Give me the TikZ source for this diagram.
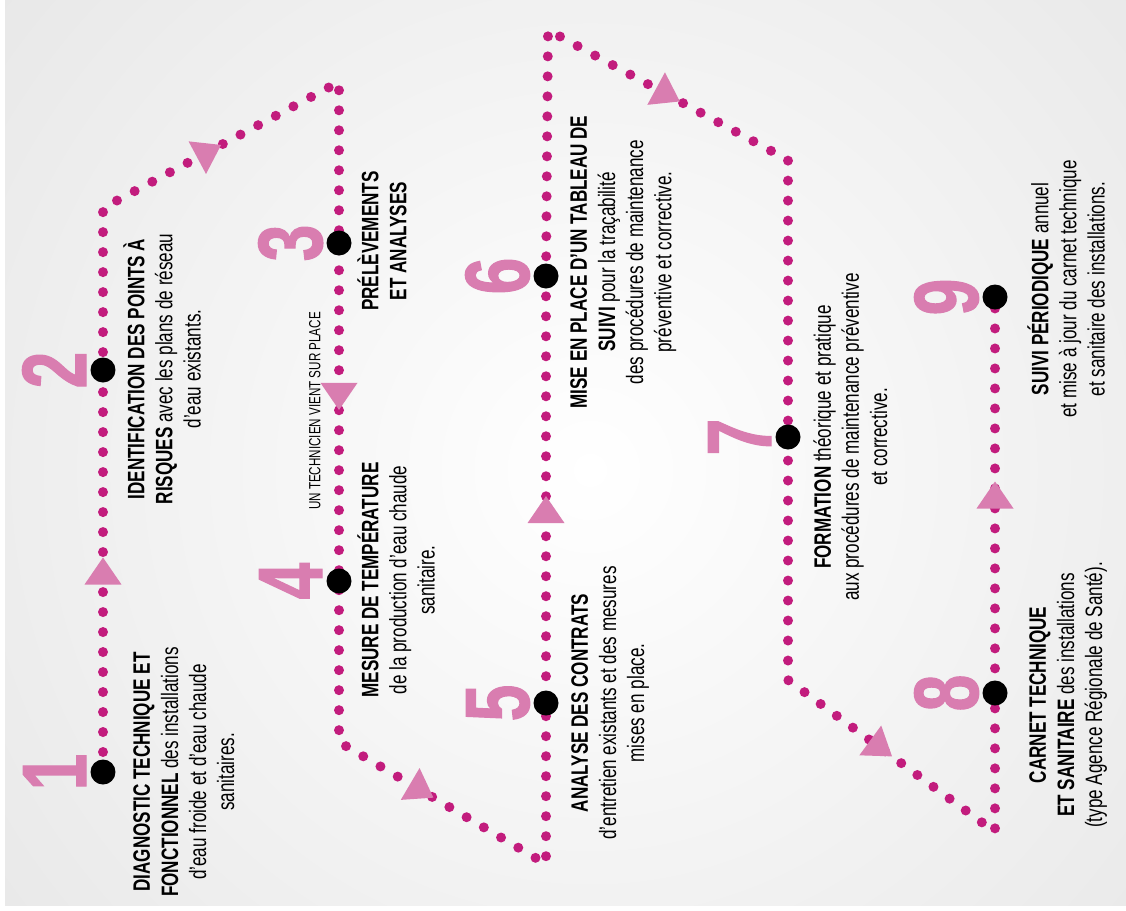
\documentclass[tikz,border=0pt]{standalone}
\usepackage{fontspec}
\setmainfont[FakeStretch=0.72]{Liberation Sans}
\newfontfamily\numfont[FakeStretch=0.72,FakeBold=1.2]{Liberation Sans}
\usetikzlibrary{decorations.markings,backgrounds}

\definecolor{dotmag}{RGB}{194,28,125}
\definecolor{numpink}{RGB}{217,125,176}

\tikzset{
    station/.style={circle,fill=black,minimum size=0.5cm,inner sep=0pt},
    stepnum/.style={rotate=90,anchor=base,text=numpink,inner sep=0pt,font=\numfont\fontsize{52}{52}\selectfont\bfseries},
    blurb/.style={rotate=90,anchor=north,align=center,inner sep=0pt,font=\fontsize{13.5}{16}\selectfont},
    trail/.style={draw=dotmag,line width=0.2cm,line cap=round,dash pattern=on 0pt off 0.4cm},
    tri/.style={postaction={decorate,decoration={markings,mark=at position #1 with {\fill[numpink] (0.27cm,0) -- (-0.27cm,0.37cm) -- (-0.27cm,-0.37cm) -- cycle;}}}},
    tri/.default=0.5
}

\begin{document}
\begin{tikzpicture}[x=0.02cm,y=-0.02cm]
        \useasboundingbox (0,0) rectangle (1126,910);

        % stations along the trail
        \foreach \i/\x/\y in {1/103/772, 2/103/370, 3/339/243, 4/339/581, 5/546/703, 6/546/276, 7/788/437, 8/995/693, 9/995/297} {
            \node[station] (n\i) at (\x,\y) {};
            \node[stepnum] (num\i) at (\x-17,\y) {\i};
        }

        \coordinate (c1) at (103,208);
        \coordinate (c2) at (339,82);
        \coordinate (c3) at (339,742);
        \coordinate (c4) at (546,864);
        \coordinate (c5) at (548,30);
        \coordinate (c6) at (788,160);
        \coordinate (c7) at (788,680);
        \coordinate (c8) at (995,832);

        \node[blurb] (t1) at (133,772) {\textbf{DIAGNOSTIC TECHNIQUE ET}\\\textbf{FONCTIONNEL} des installations\\d'eau froide et d'eau chaude\\sanitaires.};
        \node[blurb] (t2) at (123,369) {\textbf{IDENTIFICATION DES POINTS À}\\\textbf{RISQUES} avec les plans de réseau\\d'eau existants.};
        \node[blurb] (t3) at (357,241) {\textbf{PRÉLÈVEMENTS}\\\textbf{ET ANALYSES}};
        \node[blurb] (t4) at (357,580) {\textbf{MESURE DE TEMPÉRATURE}\\de la production d'eau chaude\\sanitaire.};
        \node[blurb] (t5) at (571,703) {\textbf{ANALYSE DES CONTRATS}\\d'entretien existants et des mesures\\mises en place.};
        \node[blurb] (t6) at (570,262) {\textbf{MISE EN PLACE D'UN TABLEAU DE}\\\textbf{SUIVI} pour la traçabilité\\des procédures de maintenance\\préventive et corrective.};
        \node[blurb] (t7) at (813,437) {\textbf{FORMATION} théorique et pratique\\aux procédures de maintenance préventive\\et corrective.};
        \node[blurb] (t8) at (1029,695) {\textbf{CARNET TECHNIQUE}\\\textbf{ET SANITAIRE} des installations\\(type Agence Régionale de Santé).};
        \node[blurb] (t9) at (1027,289) {\textbf{SUIVI PÉRIODIQUE} annuel\\et mise à jour du carnet technique\\et sanitaire des installations.};

        \node[rotate=90,anchor=south,inner sep=0pt,font=\fontsize{9.2}{11}\selectfont] (tech) at (321,411) {UN TECHNICIEN VIENT SUR PLACE};

        \begin{scope}[on background layer]
            \fill[white] (0,0) rectangle (1126,910);
            \begin{scope}
                \clip (5,0) rectangle (1126,905);
                \shade[inner color=white,outer color=black!9] (590,470) circle (760);
            \end{scope}

            \draw[trail] (n1.center) -- (n2.center) -- (c1) -- (c2) -- (n3.center) -- (n4.center) -- (c3) -- (c4)
                -- (n5.center) -- (n6.center) -- (c5) -- (c6) -- (n7.center) -- (c7) -- (c8) -- (n8.center) -- (n9.center);

            \path[tri] (n1) -- (n2);
            \path[tri=0.45] (c1) -- (c2);
            \path[tri=0.45] (n3) -- (n4);
            \path[tri=0.4] (c3) -- (c4);
            \path[tri=0.45] (n5) -- (n6);
            \path[tri] (c5) -- (c6);
            \path[tri=0.45] (c7) -- (c8);
            \path[tri=0.5] (n8) -- (n9);
        \end{scope}

    \end{tikzpicture}
\end{document}
